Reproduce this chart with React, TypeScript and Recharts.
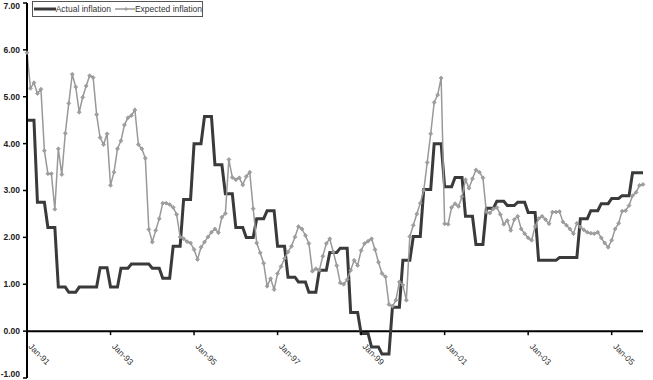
import React from 'react';
import { LineChart, Line, XAxis, YAxis, ReferenceLine, Legend } from 'recharts';

// monthly, Jan-91 .. Oct-05
const FIRST_YEAR = 1991;
const MONTH_COUNT = 178;
const MONTH_NAMES = ['Jan', 'Feb', 'Mar', 'Apr', 'May', 'Jun', 'Jul', 'Aug', 'Sep', 'Oct', 'Nov', 'Dec'];

const actualInflation = [
  4.5, 4.5, 4.5, 2.75, 2.75, 2.75, 2.21, 2.21, 2.21, 0.94, 0.94, 0.94,
  0.83, 0.83, 0.83, 0.94, 0.94, 0.94, 0.94, 0.94, 0.94, 1.35, 1.35, 1.35,
  0.94, 0.94, 0.94, 1.34, 1.34, 1.34, 1.43, 1.43, 1.43, 1.43, 1.43, 1.43,
  1.34, 1.34, 1.34, 1.13, 1.13, 1.13, 1.81, 1.81, 1.81, 2.81, 2.81, 2.81,
  4.0, 4.0, 4.0, 4.58, 4.58, 4.58, 3.55, 3.55, 3.55, 2.93, 2.93, 2.93,
  2.21, 2.21, 2.21, 2.0, 2.0, 2.0, 2.4, 2.4, 2.4, 2.57, 2.57, 2.57,
  1.81, 1.81, 1.81, 1.15, 1.15, 1.15, 1.05, 1.05, 1.05, 0.83, 0.83, 0.83,
  1.3, 1.3, 1.3, 1.68, 1.68, 1.68, 1.77, 1.77, 1.77, 0.4, 0.4, 0.4,
  -0.05, -0.05, -0.05, -0.34, -0.34, -0.34, -0.49, -0.49, -0.49, 0.51, 0.51, 0.51,
  1.51, 1.51, 1.51, 2.02, 2.02, 2.02, 3.02, 3.02, 3.02, 4.0, 4.0, 4.0,
  3.08, 3.08, 3.08, 3.28, 3.28, 3.28, 2.45, 2.45, 2.45, 1.85, 1.85, 1.85,
  2.62, 2.62, 2.62, 2.77, 2.77, 2.77, 2.68, 2.68, 2.68, 2.75, 2.75, 2.75,
  2.53, 2.53, 2.53, 1.51, 1.51, 1.51, 1.51, 1.51, 1.51, 1.57, 1.57, 1.57,
  1.57, 1.57, 1.57, 2.4, 2.4, 2.4, 2.57, 2.57, 2.57, 2.72, 2.72, 2.72,
  2.83, 2.83, 2.83, 2.89, 2.89, 2.89, 3.38, 3.38, 3.38, 3.38,
];

const expectedInflation = [
  5.94, 5.18, 5.3, 5.07, 5.16, 3.85, 3.36, 3.36, 2.6, 3.89, 3.34, 4.22,
  4.86, 5.48, 5.21, 4.67, 4.99, 5.23, 5.45, 5.41, 4.62, 4.13, 3.98, 4.21,
  3.11, 3.39, 3.89, 4.06, 4.4, 4.55, 4.6, 4.72, 3.98, 3.89, 3.69, 2.17,
  1.9, 2.15, 2.4, 2.73, 2.73, 2.7, 2.64, 2.49, 2.01, 1.97, 1.91, 1.88,
  1.74, 1.53, 1.79, 1.9, 2.01, 2.11, 2.18, 2.1, 2.43, 2.51, 3.66, 3.28,
  3.23, 3.27, 3.12, 3.3, 3.39, 2.61, 1.88, 1.67, 1.45, 0.96, 1.12, 0.89,
  1.23, 1.38, 1.55, 1.69, 1.81, 2.01, 2.23, 2.18, 2.04, 1.87, 1.28, 1.33,
  1.3, 1.6, 1.87, 1.97, 1.69, 1.4, 1.03, 1.0, 1.1, 1.3, 1.51, 1.4,
  1.72, 1.87, 1.92, 1.97, 1.74, 1.47, 1.23, 1.16, 0.57, 0.53, 0.66, 1.05,
  0.98, 0.66, 2.02, 2.26, 2.5, 2.73, 3.0, 3.6, 4.21, 4.88, 5.04, 5.4,
  2.29, 2.28, 2.64, 2.72, 2.66, 2.87, 3.23, 3.05, 3.25, 3.44, 3.39, 3.27,
  2.54, 2.52, 2.61, 2.64, 2.49, 2.28, 2.36, 2.15, 2.38, 2.45, 2.18, 2.08,
  1.99, 1.94, 2.23, 2.4, 2.45, 2.38, 2.29, 2.54, 2.54, 2.55, 2.33, 2.26,
  2.18, 2.08, 2.3, 2.22, 2.16, 2.11, 2.09, 2.08, 2.11, 1.99, 1.88, 1.79,
  1.94, 2.18, 2.3, 2.56, 2.57, 2.68, 2.89, 2.96, 3.11, 3.13,
];

const yTicks = [-1, 0, 1, 2, 3, 4, 5, 6, 7];

const W = 653;
const H = 380;
const X_AXIS_H = 1;
const MARGIN = { top: 3, right: 10, bottom: 1, left: 0 };
const Y_MIN = -1;
const Y_MAX = 7;
// y pixel of the zero line, where the category axis sits
const PLOT_H = H - MARGIN.top - MARGIN.bottom - X_AXIS_H;
const ZERO_Y = MARGIN.top + ((Y_MAX - 0) / (Y_MAX - Y_MIN)) * PLOT_H;

const FONT = "'Liberation Sans', Arial, sans-serif";
const DARK = '#3a3a3a';
const GRAY = '#999999';

const monthLabel = (i: number) => {
  const yr = (FIRST_YEAR + Math.floor(i / 12)) % 100;
  return `${MONTH_NAMES[i % 12]}-${String(yr).padStart(2, '0')}`;
};

const data = actualInflation.slice(0, MONTH_COUNT).map((a, i) => ({
  month: monthLabel(i),
  actual: a,
  expected: expectedInflation[i],
}));

function MonthTick(props: any) {
  const { x, payload } = props;
  const tx = x + 1;
  const ty = ZERO_Y + 16;
  return (
    <g>
      <line x1={x} x2={x} y1={ZERO_Y} y2={ZERO_Y + 4} stroke="#000" strokeWidth={1.5} />
      <text
        x={tx}
        y={ty}
        transform={`rotate(45 ${tx} ${ty})`}
        textAnchor="start"
        fontSize={8.5}
        fontFamily={FONT}
        fill="#333"
      >
        {payload.value}
      </text>
    </g>
  );
}

// y labels; the two at the very edges are nudged inward so they stay readable
function ValueTick(props: any) {
  const { x, y, payload } = props;
  const ly = Math.min(Math.max(y, 6), H - 6);
  return (
    <text
      x={x}
      y={ly}
      dy="0.35em"
      textAnchor="end"
      fontSize={8.5}
      fontWeight="bold"
      fontFamily={FONT}
      fill="#222"
    >
      {Number(payload.value).toFixed(2)}
    </text>
  );
}

function Marker(props: any) {
  const { cx, cy } = props;
  if (cx == null || cy == null) return null;
  return <path d={`M${cx - 2},${cy} L${cx},${cy - 2} L${cx + 2},${cy} L${cx},${cy + 2} Z`} fill="#a0a0a0" stroke="#8c8c8c" strokeWidth={0.6} />;
}

function LegendBox() {
  return (
    <div
      style={{
        width: 171,
        height: 16,
        boxSizing: 'border-box',
        border: '1px solid #555',
        background: '#fff',
        fontFamily: FONT,
        fontSize: 8.5,
        color: '#333',
        display: 'flex',
        alignItems: 'center',
        whiteSpace: 'nowrap',
      }}
    >
      <svg width={24} height={8} style={{ marginLeft: 1 }}>
        <line x1={0} x2={24} y1={4} y2={4} stroke={DARK} strokeWidth={3} />
      </svg>
      <span>Actual inflation</span>
      <svg width={22} height={8} style={{ marginLeft: 4 }}>
        <line x1={0} x2={22} y1={4} y2={4} stroke={GRAY} strokeWidth={1.5} />
        <path d="M9,4 L11,2 L13,4 L11,6 Z" fill="#a0a0a0" />
      </svg>
      <span>Expected inflation</span>
    </div>
  );
}

export default function App() {
  return (
    <div style={{ position: 'absolute', left: 0, top: 0, background: '#fff' }}>
      <LineChart width={W} height={H} data={data} margin={MARGIN}>
        <XAxis
          dataKey="month"
          interval={23}
          height={X_AXIS_H}
          axisLine={false}
          tickLine={false}
          tick={<MonthTick />}
        />
        <YAxis
          domain={[Y_MIN, Y_MAX]}
          ticks={yTicks}
          interval={0}
          width={27}
          axisLine={{ stroke: '#000', strokeWidth: 2 }}
          tickLine={{ stroke: '#000', strokeWidth: 1.5 }}
          tickSize={4}
          tickMargin={3}
          tick={<ValueTick />}
          allowDataOverflow
        />
        <ReferenceLine y={0} stroke="#000" strokeWidth={2} />
        <Legend
          layout="horizontal"
          verticalAlign="middle"
          align="center"
          content={<LegendBox />}
          wrapperStyle={{ top: 1, left: 32, width: 171, height: 16 }}
        />
        <Line
          type="linear"
          dataKey="actual"
          name="Actual inflation"
          stroke={DARK}
          strokeWidth={3}
          dot={false}
          activeDot={false}
          isAnimationActive={false}
        />
        <Line
          type="linear"
          dataKey="expected"
          name="Expected inflation"
          stroke={GRAY}
          strokeWidth={1.5}
          dot={<Marker />}
          activeDot={false}
          isAnimationActive={false}
        />
      </LineChart>
    </div>
  );
}
